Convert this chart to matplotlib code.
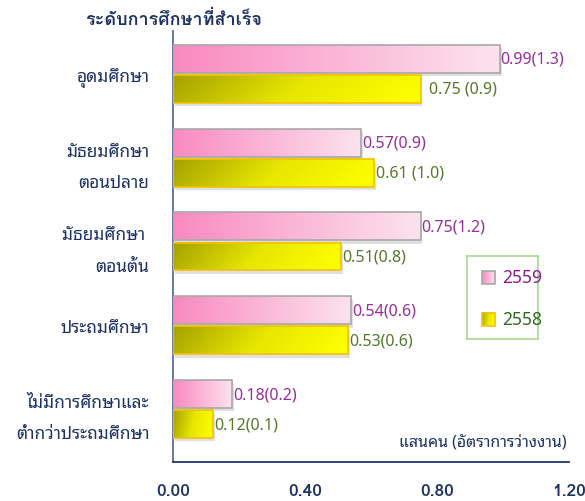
import matplotlib
matplotlib.use("Agg")
import matplotlib.pyplot as plt
import numpy as np
from matplotlib.patches import Rectangle
from matplotlib.colors import LinearSegmentedColormap

plt.rcParams['font.family'] = ['Noto Sans Thai Looped', 'Loma', 'DejaVu Sans']
BOLD_FAMILY = ['Loma', 'DejaVu Sans']

# ---- data ----
categories = ["อุดมศึกษา", "มัธยมศึกษา\nตอนปลาย", "มัธยมศึกษา \nตอนต้น",
              "ประถมศึกษา", "ไม่มีการศึกษาและ\nต่ำกว่าประถมศึกษา"]
values_2559 = [0.99, 0.57, 0.75, 0.54, 0.18]
values_2558 = [0.75, 0.61, 0.51, 0.53, 0.12]
rates_2559 = ["(1.3)", "(0.9)", "(1.2)", "(0.6)", "(0.2)"]
rates_2558 = [" (0.9)", " (1.0)", "(0.8)", "(0.6)", "(0.1)"]
series_names = ["2559", "2558"]
xticks = [0.0, 0.4, 0.8, 1.2]
xticklabels = ["0.00", "0.40", "0.80", "1.20"]
title = "ระดับการศึกษาที่สำเร็จ"
unit_label = "แสนคน (อัตราการว่างงาน)"

navy = "#1F3363"
pink_cmap = LinearSegmentedColormap.from_list("pk", ["#F98AC0", "#FCE3EE"])
yel_cmap = LinearSegmentedColormap.from_list("yl", ["#A6A000", "#E6E600", "#FFFF00"])

fig = plt.figure(figsize=(5.85, 5.02), dpi=100)
ax = fig.add_axes([173/585, 1-463/502, 396/585, 431/502])

bar_h = 0.333
off = 0.179
y = np.arange(len(categories))

xs = np.linspace(0, 1, 256)
ys = np.linspace(0, 1, 32)
XX, YY = np.meshgrid(xs, ys)
grad_pink = XX
grad_yel = np.clip(XX * 0.9 + YY * 0.12, 0, 1)


def gradient_bars(vals, ypos, cmap, grad, edge, z):
    bars = ax.barh(ypos, vals, height=bar_h, facecolor="none",
                   edgecolor=edge, linewidth=1.2, zorder=z + 1)
    for b in bars:
        x0, y0 = b.get_x(), b.get_y()
        w, h = b.get_width(), b.get_height()
        # soft shadow
        ax.add_patch(Rectangle((x0 + 0.006, y0 + 0.04), w, h, facecolor="#BBBBBB",
                               edgecolor="none", alpha=0.45, zorder=z - 1))
        ax.imshow(grad, cmap=cmap, extent=[x0, x0 + w, y0 + h, y0],
                  aspect="auto", zorder=z, interpolation="bilinear")
    return bars


b1 = gradient_bars(values_2559, y - off, pink_cmap, grad_pink, "#A8A8A8", 3)
b2 = gradient_bars(values_2558, y + off, yel_cmap, grad_yel, "#F2C200", 3)

for i in range(len(categories)):
    ax.text(values_2559[i] + 0.003, y[i] - off, f"{values_2559[i]:.2f}{rates_2559[i]}",
            va="center", ha="left", fontsize=11.5, color="#9B2C9B", zorder=6)
    gap = 0.027 if i == 0 else 0.004
    ax.text(values_2558[i] + gap, y[i] + off,
            f"{values_2558[i]:.2f}{rates_2558[i]}",
            va="center", ha="left", fontsize=11.5, color="#55782A", zorder=6)

ax.set_xlim(0, 1.2)
ax.set_ylim(4.63, -0.51)
ax.set_xticks(xticks)
ax.set_xticklabels(xticklabels, fontsize=12.5, fontweight="bold", color=navy,
                   family=BOLD_FAMILY)
ax.set_yticks(y)
ax.set_yticklabels(categories, fontsize=12.5, color=navy, linespacing=1.95)
ax.tick_params(axis="x", length=0, pad=15)
ax.tick_params(axis="y", length=0, pad=17)
for s in ["top", "right"]:
    ax.spines[s].set_visible(False)
ax.spines["left"].set_color("#5A6E9A")
ax.spines["left"].set_linewidth(1.3)
ax.spines["bottom"].set_color(navy)
ax.spines["bottom"].set_linewidth(1.3)

fig.text(85/585, 1-20/502, title, fontsize=13, fontweight="bold",
         color=navy, ha="left", va="center", family=BOLD_FAMILY)
ax.text(0.995, 0.03, unit_label, transform=ax.transAxes, fontsize=11.5,
        color=navy, ha="right", va="bottom")

# legend
lax = fig.add_axes([467/585, 1-340/502, 71/585, 83/502])
lax.set_xlim(0, 71)
lax.set_ylim(83, 0)
lax.set_xticks([])
lax.set_yticks([])
for s in lax.spines.values():
    s.set_color("#A9D88C")
    s.set_linewidth(1.2)
leg_items = [(series_names[0], pink_cmap, grad_pink, "#A8A8A8", "#8E1A8E", 21),
             (series_names[1], yel_cmap, grad_yel, "#F2C200", "#2E6B1E", 63)]
for name, cmap, grad, edge, tcol, cy in leg_items:
    lax.imshow(grad, cmap=cmap, extent=[15, 28, cy + 6.5, cy - 6.5], aspect="auto",
               interpolation="bilinear")
    lax.add_patch(Rectangle((15, cy - 6.5), 13, 13, facecolor="none",
                            edgecolor=edge, linewidth=1.2))
    lax.text(35, cy, name, va="center", ha="left", fontsize=12.5, color=tcol)
lax.set_xlim(0, 71)
lax.set_ylim(83, 0)

fig.savefig("out.png", dpi=100)
